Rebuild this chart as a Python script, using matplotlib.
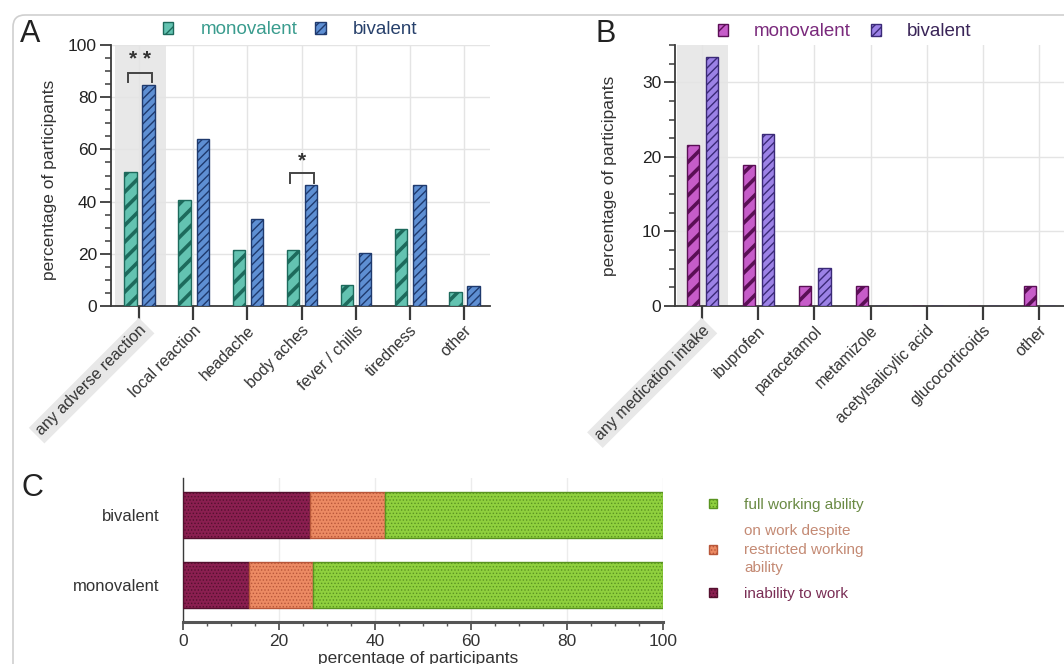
import matplotlib
matplotlib.use('Agg')
import matplotlib.pyplot as plt
import numpy as np
from matplotlib.patches import FancyBboxPatch
from matplotlib.transforms import IdentityTransform, ScaledTranslation
from matplotlib.ticker import MultipleLocator

plt.rcParams['font.family'] = ['Liberation Sans', 'DejaVu Sans']

# ---------------- data ----------------
categories_A = ["any adverse reaction", "local reaction", "headache", "body aches",
                "fever / chills", "tiredness", "other"]
mono_A = [51.2, 40.5, 21.6, 21.6, 7.9, 29.6, 5.3]
biv_A = [84.5, 64.0, 33.3, 46.2, 20.4, 46.2, 7.6]

categories_B = ["any medication intake", "ibuprofen", "paracetamol", "metamizole",
                "acetylsalicylic acid", "glucocorticoids", "other"]
mono_B = [21.6, 18.9, 2.7, 2.7, 0, 0, 2.7]
biv_B = [33.4, 23.0, 5.1, 0, 0, 0, 0]

groups_C = ["monovalent", "bivalent"]
inability_C = [13.7, 26.5]
restricted_C = [13.4, 15.6]
full_C = [72.9, 57.9]

series_labels = ["monovalent", "bivalent"]
legend_C = ["full working ability", "on work despite\nrestricted working\nability", "inability to work"]

# ---------------- figure ----------------
W, H = 1064, 664
fig = plt.figure(figsize=(W / 100, H / 100), dpi=100)


def fr(l, t, r, b):
    return [l / W, 1 - b / H, (r - l) / W, (b - t) / H]


axA = fig.add_axes(fr(111, 45, 490, 306))
axB = fig.add_axes(fr(675, 45, 1064, 306))
axC = fig.add_axes(fr(183, 478, 663, 622))

SPINE = '#3a3a3a'
GRID = '#e4e4e4'
SHADE = '#e8e8e8'


def style_axes(ax):
    for s in ['top', 'right']:
        ax.spines[s].set_visible(False)
    for s in ['left', 'bottom']:
        ax.spines[s].set_color(SPINE)
        ax.spines[s].set_linewidth(1.3)
    ax.set_axisbelow(True)


def hatched_bars(ax, x, vals, width, color, hcolor, hatch, hlw, label):
    plt.rcParams['hatch.linewidth'] = hlw
    bars = ax.bar(x, vals, width, color=color, edgecolor=hcolor, hatch=hatch,
                  linewidth=1.0, zorder=3, label=label)
    for p in bars:
        try:
            p.set_hatch_linewidth(hlw)
        except AttributeError:
            pass
    return bars


def grouped_panel(ax, cats, mono, biv, ylim, major, minor, cols, xlim, shade, offs, width):
    x = np.arange(len(cats))
    style_axes(ax)
    ax.axvspan(shade[0], shade[1], color=SHADE, zorder=0, lw=0)
    bm = hatched_bars(ax, x + offs[0], mono, width, cols[0], cols[1], '//', 2.6, series_labels[0])
    bb = hatched_bars(ax, x + offs[1], biv, width, cols[2], cols[3], '////', 1.0, series_labels[1])
    ax.set_xlim(*xlim)
    ax.set_ylim(*ylim)
    ax.yaxis.set_major_locator(MultipleLocator(major))
    ax.yaxis.set_minor_locator(MultipleLocator(minor))
    ax.grid(True, which='major', color=GRID, lw=1.0, zorder=0.5)
    ax.tick_params(axis='y', which='major', length=8, width=1.3, colors=SPINE,
                   labelsize=12.5, labelcolor='#222222', pad=2)
    ax.tick_params(axis='y', which='minor', length=4, width=1.1, colors=SPINE)
    ax.tick_params(axis='x', which='major', length=10, width=1.6, colors=SPINE,
                   labelsize=11.5, labelcolor='#333333', pad=3)
    ax.set_xticks(x)
    ax.set_xticklabels(cats, rotation=45, ha='right', va='center', rotation_mode='anchor')
    off = ScaledTranslation(5 / 100, -4 / 100, fig.dpi_scale_trans)
    for t in ax.get_xticklabels():
        t.set_transform(t.get_transform() + off)
    ax.get_xticklabels()[0].set_bbox(dict(facecolor=SHADE, edgecolor='none', pad=2.5))
    ax.set_ylabel('percentage of participants', fontsize=12.5, color='#333333')
    return bm, bb


# ---------------- panel A ----------------
colsA = ['#63c3b1', '#1d6a5c', '#5e8fd3', '#1f3a6e']
bmA, bbA = grouped_panel(axA, categories_A, mono_A, biv_A, (0, 100), 20, 5, colsA,
                         (-0.52, 6.48), (-0.45, 0.5), (-0.16, 0.175), 0.23)
axA.yaxis.set_label_coords(-54 / 379, 0.483)

# significance markers
for xi, y0, y1, ys, star in [(0, 86, 89.4, 94.5, '* *'), (3, 47.3, 51.1, 55.7, '*')]:
    axA.plot([xi - 0.21, xi - 0.21, xi + 0.23, xi + 0.23], [y0, y1, y1, y0],
             color='#444444', lw=1.4, zorder=4, solid_joinstyle='miter')
    axA.text(xi + 0.01, ys, star, ha='center', va='center', fontsize=15,
             fontweight='bold', color='#333333')

legA = axA.legend(handles=[bmA, bbA], labels=series_labels, ncol=2, frameon=False,
                  loc='center left', bbox_to_anchor=(163 / W, 1 - 30 / H),
                  bbox_transform=fig.transFigure, borderpad=0, borderaxespad=0,
                  handlelength=0.55, handleheight=0.55, handletextpad=1.45,
                  columnspacing=0.95, fontsize=13.5)
for t, c in zip(legA.get_texts(), ['#3a9c8e', '#27406b']):
    t.set_color(c)

# ---------------- panel B ----------------
colsB = ['#c65cc9', '#5a0f55', '#9c82e6', '#3b2a78']
bmB, bbB = grouped_panel(axB, categories_B, mono_B, biv_B, (0, 35), 10, 2.5, colsB,
                         (-0.48, 6.44), (-0.45, 0.46), (-0.16, 0.18), 0.215)
axB.yaxis.set_label_coords(-58 / 389, 0.498)

legB = axB.legend(handles=[bmB, bbB], labels=series_labels, ncol=2, frameon=False,
                  loc='center left', bbox_to_anchor=(718 / W, 1 - 32 / H),
                  bbox_transform=fig.transFigure, borderpad=0, borderaxespad=0,
                  handlelength=0.55, handleheight=0.55, handletextpad=1.35,
                  columnspacing=1.1, fontsize=13.5)
for t, c in zip(legB.get_texts(), ['#7a2a7c', '#3a2558']):
    t.set_color(c)

# ---------------- panel C ----------------
style_axes(axC)
axC.spines['bottom'].set_linewidth(2.2)
axC.spines['bottom'].set_color('#555555')
axC.spines['left'].set_linewidth(1.0)
yC = np.arange(len(groups_C))
left = np.zeros(len(groups_C))
plt.rcParams['hatch.linewidth'] = 0.6
handlesC = []
for vals, col, hc, lab in [(inability_C, '#8a1f50', '#55102f', legend_C[2]),
                           (restricted_C, '#ec8a63', '#b8573a', legend_C[1]),
                           (full_C, '#8fd03e', '#5a9421', legend_C[0])]:
    b = axC.barh(yC, vals, left=left, height=0.66, color=col, edgecolor=hc,
                 hatch='.....', linewidth=1.0, zorder=3, label=lab)
    for p in b:
        try:
            p.set_hatch_linewidth(0.6)
        except AttributeError:
            pass
    handlesC.append(b)
    left += np.array(vals)
axC.set_xlim(0, 100)
axC.set_ylim(-0.53, 1.53)
axC.set_yticks(yC)
axC.set_yticklabels(groups_C)
axC.xaxis.set_major_locator(MultipleLocator(20))
axC.xaxis.set_minor_locator(MultipleLocator(5))
axC.grid(True, axis='x', which='major', color='#ececec', lw=1.0, zorder=0.5)
axC.tick_params(axis='y', length=0, pad=17, labelsize=12, labelcolor='#333333')
axC.tick_params(axis='x', which='major', length=6, width=1.3, colors='#555555',
                labelsize=12.5, labelcolor='#333333', pad=3)
axC.tick_params(axis='x', which='minor', length=3, width=1.0, colors='#555555')
axC.set_xlabel('percentage of participants', fontsize=12.5, color='#333333')
axC.xaxis.set_label_coords(0.49, -0.2)

legC = axC.legend(handles=handlesC[::-1], labels=legend_C, frameon=False,
                  loc='upper left', bbox_to_anchor=(709 / W, 1 - 498 / H),
                  bbox_transform=fig.transFigure, borderpad=0, borderaxespad=0,
                  handlelength=0.55, handleheight=0.55, handletextpad=1.75,
                  labelspacing=0.8, fontsize=11)
for t, c in zip(legC.get_texts(), ['#6a8a44', '#c48a74', '#7a2e55']):
    t.set_color(c)
    t.set_linespacing(1.4)

# ---------------- panel letters & card border ----------------
for s, x, y in [('A', 30, 34), ('B', 606, 34), ('C', 32, 488)]:
    fig.text(x / W, 1 - y / H, s, fontsize=22, ha='center', va='center', color='#222222')

border = FancyBboxPatch((13, -60), 1200, H - 15 + 60, boxstyle='round,pad=0,rounding_size=12',
                        transform=IdentityTransform(), facecolor='none',
                        edgecolor='#cfcfcf', lw=1.2)
fig.add_artist(border)

fig.savefig('out.png', dpi=100)
